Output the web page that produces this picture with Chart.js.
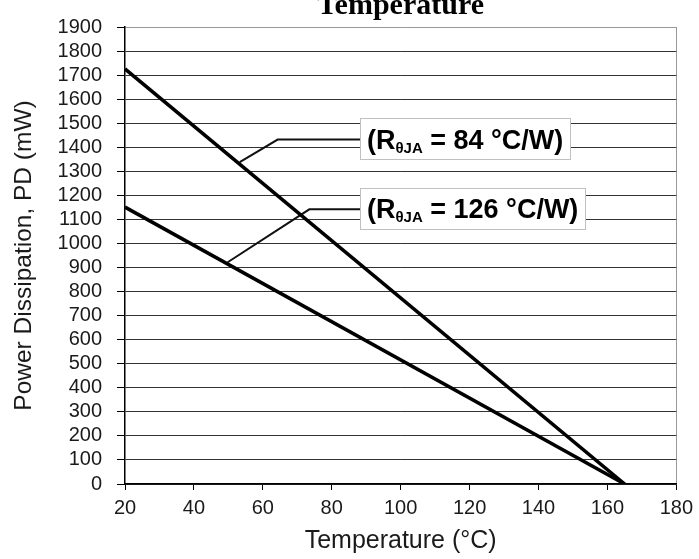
<!DOCTYPE html>
<html>
<head>
<meta charset="utf-8">
<script src="https://cdn.jsdelivr.net/npm/chart.js@4.4.1/dist/chart.umd.min.js"></script>
<style>
    html, body { margin: 0; padding: 0; background: #fff; overflow: hidden; }
    #wrap { width: 699px; height: 559px; position: relative; }
</style>
</head>
<body>
<div id="wrap"><canvas id="derating"></canvas></div>
<script>
// Derating curves: power dissipation vs ambient temperature
const temperature = [20, 165];
const pd84 = [1726, 0];
const pd126 = [1151, 0];

// Callout leader lines (temperature, mW)
const leader84T = [53.3, 64.3, 88.2];
const leader84PD = [1338, 1432, 1432];
const leader126T = [49.8, 73.5, 88.2];
const leader126PD = [922, 1142, 1142];

const calloutRest = [' = 84 °C/W)', ' = 126 °C/W)'];
const calloutT = [88.2, 88.2];
const calloutPD = [1432, 1142];

const xTicks = [20, 40, 60, 80, 100, 120, 140, 160, 180];
const yMax = 1900;

const SANS = '"Liberation Sans", Arial, sans-serif';

function toPoints(xs, ys) {
    return xs.map((v, i) => ({ x: v, y: ys[i] }));
}

const titlePlugin = {
    id: 'cutTitle',
    afterDraw(chart) {
        const ctx = chart.ctx;
        const area = chart.chartArea;
        ctx.save();
        ctx.font = 'bold 30px "Liberation Serif", "Times New Roman", serif';
        ctx.fillStyle = '#000';
        ctx.textAlign = 'center';
        ctx.textBaseline = 'alphabetic';
        ctx.fillText('Temperature', (area.left + area.right) / 2, 13.5);
        ctx.restore();
    }
};

const calloutPlugin = {
    id: 'callouts',
    afterDatasetsDraw(chart) {
        const ctx = chart.ctx;
        const x = chart.scales.x;
        const y = chart.scales.y;
        calloutRest.forEach((rest, i) => {
            const left = x.getPixelForValue(calloutT[i]);
            const mid = y.getPixelForValue(calloutPD[i]);
            const mainFont = 'bold 27px ' + SANS;
            const subFont = 'bold 15px ' + SANS;
            ctx.save();
            ctx.font = mainFont;
            const w1 = ctx.measureText('(R').width;
            const w3 = ctx.measureText(rest).width;
            ctx.font = subFont;
            const w2 = ctx.measureText('θJA').width;
            const padX = 7;
            const h = 41;
            const w = w1 + w2 + w3 + padX * 2;
            const top = mid - h / 2 - 1;
            ctx.fillStyle = '#fff';
            ctx.fillRect(left, top, w, h);
            ctx.strokeStyle = '#c0c0c0';
            ctx.lineWidth = 1;
            ctx.strokeRect(Math.round(left) + 0.5, Math.round(top) + 0.5, Math.round(w), h);

            const base = mid + 9;
            ctx.fillStyle = '#000';
            ctx.textBaseline = 'alphabetic';
            ctx.textAlign = 'left';
            let tx = left + padX;
            ctx.font = mainFont;
            ctx.fillText('(R', tx, base);
            tx += w1;
            ctx.font = subFont;
            ctx.fillText('θJA', tx, base + 4);
            tx += w2;
            ctx.font = mainFont;
            ctx.fillText(rest, tx, base);
            ctx.restore();
        });
    }
};

new Chart(document.getElementById('derating'), {
    type: 'line',
    data: {
        datasets: [
            {
                label: 'RθJA = 84 °C/W',
                data: toPoints(temperature, pd84),
                borderColor: '#000',
                borderWidth: 3.5,
                pointRadius: 0
            },
            {
                label: 'RθJA = 126 °C/W',
                data: toPoints(temperature, pd126),
                borderColor: '#000',
                borderWidth: 3.5,
                pointRadius: 0
            },
            {
                label: 'leader 84',
                data: toPoints(leader84T, leader84PD),
                borderColor: '#111',
                borderWidth: 2,
                pointRadius: 0
            },
            {
                label: 'leader 126',
                data: toPoints(leader126T, leader126PD),
                borderColor: '#111',
                borderWidth: 2,
                pointRadius: 0
            }
        ]
    },
    options: {
        responsive: true,
        maintainAspectRatio: false,
        animation: false,
        layout: {
            padding: { top: 21, right: 21, left: 0, bottom: 0 }
        },
        plugins: {
            legend: { display: false },
            tooltip: { enabled: false },
            title: { display: false }
        },
        scales: {
            x: {
                type: 'linear',
                min: 20,
                max: 180,
                afterBuildTicks: scale => {
                    scale.ticks = xTicks.map(v => ({ value: v }));
                },
                afterFit: scale => { scale.height = 75; },
                border: { color: '#000', width: 1.5 },
                grid: {
                    color: ctx => (ctx.tick && ctx.tick.value === 180 ? '#999' : 'rgba(0,0,0,0)'),
                    tickColor: '#000',
                    tickLength: 6,
                    lineWidth: 1
                },
                ticks: {
                    color: '#1a1a1a',
                    padding: 6,
                    autoSkip: false,
                    maxRotation: 0,
                    callback: v => String(v),
                    font: { family: SANS, size: 20 }
                },
                title: {
                    display: true,
                    text: 'Temperature (°C)',
                    color: '#1a1a1a',
                    padding: { top: 0, bottom: 3 },
                    font: { family: SANS, size: 25 }
                }
            },
            y: {
                min: 0,
                max: yMax,
                afterFit: scale => { scale.width = 125; },
                border: { color: '#000', width: 1.5 },
                grid: {
                    color: ctx => (ctx.tick && ctx.tick.value === yMax ? '#999' : '#333'),
                    tickColor: '#000',
                    tickLength: 8,
                    lineWidth: 1
                },
                ticks: {
                    stepSize: 100,
                    autoSkip: false,
                    color: '#1a1a1a',
                    padding: 15,
                    callback: v => String(v),
                    font: { family: SANS, size: 20 }
                },
                title: {
                    display: true,
                    text: 'Power Dissipation, PD (mW)',
                    color: '#1a1a1a',
                    padding: { top: 10, bottom: 0 },
                    font: { family: SANS, size: 24.5 }
                }
            }
        }
    },
    plugins: [titlePlugin, calloutPlugin]
});
</script>
</body>
</html>
